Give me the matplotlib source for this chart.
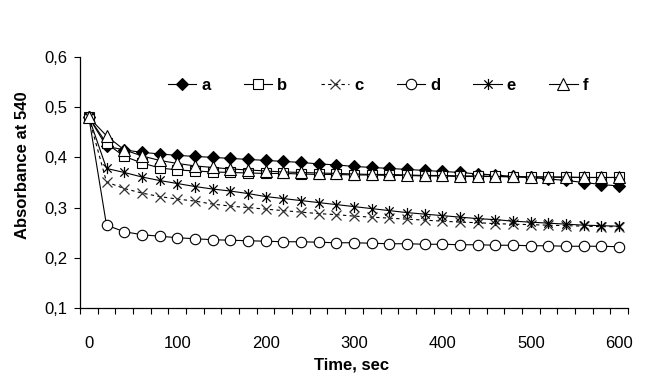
import matplotlib
matplotlib.use("Agg")
import matplotlib.pyplot as plt
import numpy as np
from matplotlib.path import Path
from matplotlib.ticker import FixedLocator, FuncFormatter

plt.rcParams['font.family'] = ['Liberation Sans', 'DejaVu Sans']

time = list(range(0, 601, 20))
a = [0.48, 0.422, 0.415, 0.410, 0.407, 0.404, 0.402, 0.400, 0.398, 0.396, 0.394,
     0.392, 0.390, 0.387, 0.385, 0.382, 0.380, 0.378, 0.376, 0.374, 0.372,
     0.370, 0.367, 0.365, 0.362, 0.360, 0.357, 0.354, 0.350, 0.346, 0.343]
b = [0.48, 0.428, 0.402, 0.389, 0.379, 0.375, 0.373, 0.371, 0.370, 0.369, 0.368,
     0.368, 0.367, 0.366, 0.366, 0.365, 0.365, 0.364, 0.364, 0.363, 0.363,
     0.362, 0.362, 0.362, 0.361, 0.361, 0.361, 0.360, 0.360, 0.360, 0.360]
c = [0.48, 0.351, 0.338, 0.329, 0.322, 0.317, 0.313, 0.307, 0.303, 0.300, 0.297,
     0.294, 0.291, 0.288, 0.286, 0.283, 0.281, 0.279, 0.277, 0.275, 0.273,
     0.271, 0.270, 0.268, 0.267, 0.266, 0.265, 0.264, 0.263, 0.262, 0.262]
d = [0.48, 0.265, 0.252, 0.246, 0.243, 0.240, 0.238, 0.236, 0.235, 0.234, 0.233,
     0.232, 0.232, 0.231, 0.230, 0.230, 0.229, 0.228, 0.228, 0.227, 0.227,
     0.226, 0.226, 0.225, 0.225, 0.224, 0.224, 0.223, 0.223, 0.223, 0.222]
e = [0.48, 0.378, 0.370, 0.361, 0.354, 0.348, 0.342, 0.337, 0.333, 0.328, 0.322,
     0.318, 0.314, 0.310, 0.306, 0.302, 0.298, 0.294, 0.290, 0.287, 0.284,
     0.281, 0.278, 0.276, 0.273, 0.271, 0.269, 0.267, 0.265, 0.264, 0.263]
f = [0.48, 0.443, 0.415, 0.403, 0.394, 0.388, 0.383, 0.380, 0.377, 0.375, 0.373,
     0.371, 0.370, 0.369, 0.368, 0.367, 0.366, 0.366, 0.365, 0.364, 0.364,
     0.363, 0.363, 0.362, 0.362, 0.361, 0.361, 0.361, 0.360, 0.360, 0.360]
labels = ['a', 'b', 'c', 'd', 'e', 'f']
x_tick_labels = [0, 100, 200, 300, 400, 500, 600]
y_ticks = [0.1, 0.2, 0.3, 0.4, 0.5, 0.6]

star = Path([(0, -1), (0, 1), (-0.75, -0.75), (0.75, 0.75), (-0.75, 0.75), (0.75, -0.75)],
            [Path.MOVETO, Path.LINETO, Path.MOVETO, Path.LINETO, Path.MOVETO, Path.LINETO])

styles = [
    dict(marker='D', ms=6, mfc='black', mec='black', ls='-'),
    dict(marker='s', ms=7.5, mfc='white', mec='black', ls='-'),
    dict(marker='x', ms=7.5, mfc='none', mec='#333333', ls=(0, (3, 3)), mew=0.9),
    dict(marker='o', ms=7.5, mfc='white', mec='black', ls='-'),
    dict(marker=star, ms=8, mfc='none', mec='black', ls='-', mew=0.9),
    dict(marker='^', ms=8, mfc='white', mec='black', ls='-'),
]

fig = plt.figure(figsize=(6.51, 3.81), dpi=100)
ax = fig.add_axes([80/651, 1-308/381, 548/651, 251/381])

for ys, lab, st in zip([a, b, c, d, e, f], labels, styles):
    ax.plot(time, ys, color='black', lw=0.8, label=lab, mew=st.pop('mew', 0.8), **st)

ax.set_xlim(-10, 610)
ax.set_ylim(0.1, 0.6)
for s in ['top', 'right']:
    ax.spines[s].set_visible(False)
for s in ['left', 'bottom']:
    ax.spines[s].set_linewidth(0.9)

ax.xaxis.set_major_locator(FixedLocator(x_tick_labels))
ax.xaxis.set_minor_locator(FixedLocator(np.arange(-10, 611, 20)))
ax.tick_params(axis='x', which='major', length=0, pad=20, labelsize=12)
ax.tick_params(axis='x', which='minor', length=4, width=0.8, direction='out')
ax.set_yticks(y_ticks)
ax.yaxis.set_major_formatter(FuncFormatter(lambda v, p: f"{v:.1f}".replace('.', ',')))
ax.tick_params(axis='y', length=4, width=0.8, direction='out', pad=5, labelsize=12)

fig.text(352/651, 1-365/381, 'Time, sec', ha='center', va='center', fontsize=12, fontweight='bold')
fig.text(23/651, 1-165/381, 'Absorbance at 540', ha='center', va='center', rotation=90,
         fontsize=12, fontweight='bold')

leg = ax.legend(ncol=6, frameon=False, loc='center left', bbox_to_anchor=((168-80)/548, (308-85)/251),
                prop={'weight': 'bold', 'size': 12}, handlelength=1.7, handletextpad=0.3,
                columnspacing=2.0, borderpad=0, borderaxespad=0)

fig.savefig('out.png', dpi=100)
